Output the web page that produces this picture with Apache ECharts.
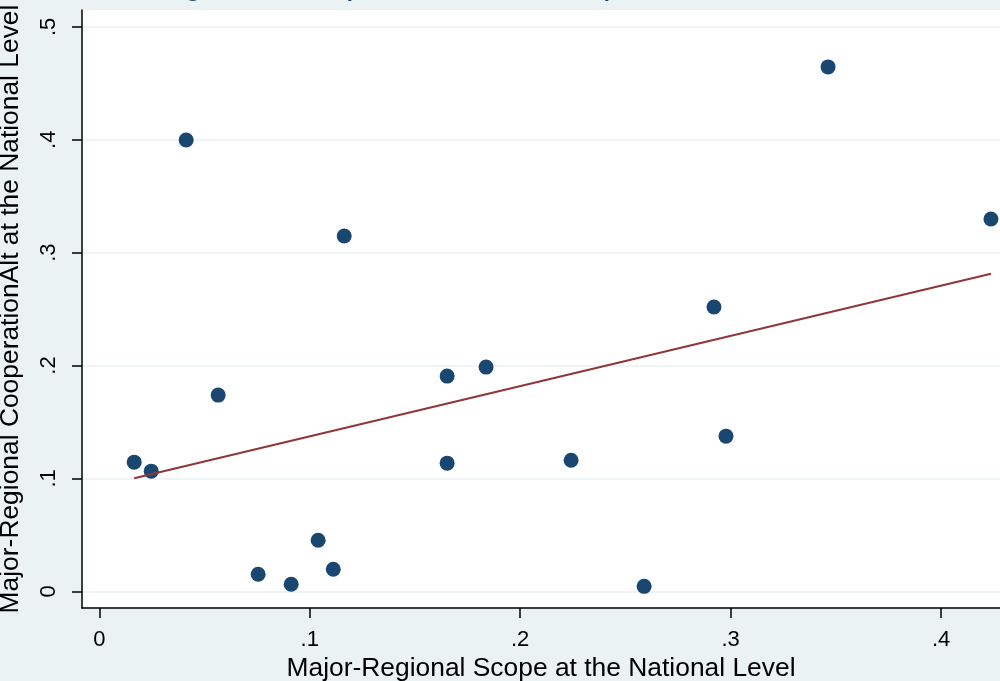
<!DOCTYPE html>
<html>
<head>
<meta charset="utf-8">
<script src="https://cdn.jsdelivr.net/npm/echarts@6/dist/echarts.min.js"></script>
<style>
  html,body{margin:0;padding:0;background:#eaf2f3;}
  #chart{width:1000px;height:681px;}
</style>
</head>
<body>
<div id="chart"></div>
<script>
// scope at the national level (x) and cooperation alt (y)
var scope = [0.0166,0.0247,0.0413,0.0565,0.0755,0.0912,0.1040,0.1112,0.1164,0.1653,0.1653,0.1838,0.2242,0.2589,0.2921,0.2978,0.3463,0.4237];
var coop  = [0.1144,0.1064,0.3998,0.1738,0.0151,0.0062,0.0452,0.0195,0.3147,0.1906,0.1135,0.1986,0.1161,0.0044,0.2518,0.1374,0.4645,0.3298];
var xTicks = [0,0.1,0.2,0.3,0.4];
var yTicks = [0,0.1,0.2,0.3,0.4,0.5];

var navy = '#1a476f', maroon = '#90353b';

// linear fit (lfit) from min x to max x
var n = scope.length, mx = 0, my = 0;
for (var i = 0; i < n; i++) { mx += scope[i]; my += coop[i]; }
mx /= n; my /= n;
var sxy = 0, sxx = 0;
for (var i = 0; i < n; i++) { sxy += (scope[i]-mx)*(coop[i]-my); sxx += (scope[i]-mx)*(scope[i]-mx); }
var b = sxy/sxx, a = my - b*mx;
var xlo = Math.min.apply(null, scope), xhi = Math.max.apply(null, scope);
var fit = [[xlo, a + b*xlo], [xhi, a + b*xhi]];

var pts = scope.map(function(x, i){ return [x, coop[i]]; });

function stataLab(v){
  if (v === 0) return '0';
  return String(+v.toFixed(2)).replace(/^0/, '');
}

var chart = echarts.init(document.getElementById('chart'));
chart.setOption({
  backgroundColor:'#eaf2f3',
  animation:false,
  textStyle:{fontFamily:'"Liberation Sans", Arial, sans-serif'},
  // title sits mostly above the visible area, only its descenders show
  graphic:[{
    type:'text',
    left:140, top:-32,
    style:{text:'Regional Cooperation and Scope', fontSize:34, fill:navy,
      fontFamily:'"Liberation Sans", Arial, sans-serif'}
  }],
  grid:{
    left:82, top:10, right:0, bottom:73,
    outerBoundsMode:'none',
    containLabel:false,
    show:true, backgroundColor:'#ffffff', borderWidth:0
  },
  xAxis:{
    type:'value',
    min:-0.0082, max:0.428,
    name:'Major-Regional Scope at the National Level',
    nameLocation:'middle', nameGap:43,
    nameTextStyle:{fontSize:26.4, color:'#000'},
    axisLine:{show:true, onZero:false, lineStyle:{color:'#000', width:1.5}},
    axisTick:{show:true, length:10, customValues:xTicks, lineStyle:{color:'#000', width:1.5}},
    axisLabel:{customValues:xTicks, fontSize:22, color:'#000', margin:21, formatter:stataLab},
    splitLine:{show:false}
  },
  yAxis:{
    type:'value',
    min:-0.0148, max:0.5149,
    name:'Major-Regional CooperationAlt at the National Level',
    nameLocation:'middle', nameGap:58,
    nameTextStyle:{fontSize:26.4, color:'#000'},
    axisLine:{show:true, onZero:false, lineStyle:{color:'#000', width:1.5}},
    axisTick:{show:true, length:10, customValues:yTicks, lineStyle:{color:'#000', width:1.5}},
    axisLabel:{customValues:yTicks, fontSize:22, color:'#000', margin:22, rotate:90, formatter:stataLab},
    splitLine:{show:true, lineStyle:{color:'#eaf2f3', width:1.5}}
  },
  series:[
    {
      type:'scatter',
      data:pts,
      symbol:'circle',
      symbolSize:15,
      itemStyle:{color:navy, opacity:1}
    },
    {
      type:'line',
      data:fit,
      symbol:'none',
      lineStyle:{color:maroon, width:2},
      z:3
    }
  ]
});
</script>
</body>
</html>
